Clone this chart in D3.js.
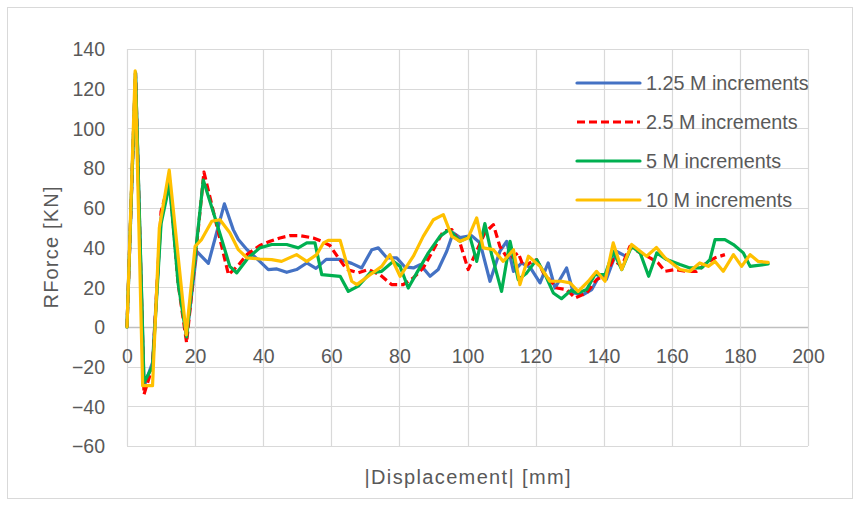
<!DOCTYPE html>
<html>
<head>
<meta charset="utf-8">
<script src="https://cdn.jsdelivr.net/npm/d3@7"></script>
<style>
  html, body { margin: 0; padding: 0; background: #fff; }
  svg { display: block; font-family: "Liberation Sans", Arial, sans-serif; }
</style>
</head>
<body>
<div id="chart"></div>
<script>
// series labels and colours
const seriesNames = ["1.25 M increments", "2.5 M increments", "5 M increments", "10 M increments"];
const seriesColors = ["#4472C4", "#FF0000", "#00B050", "#FFC000"];

// values: displacement [mm] and reaction force [kN]
const blueX = [0, 2.5, 5, 7.5, 10, 12.5, 15, 17.5, 20.5, 23.9, 28.6, 31.2, 32.7, 35.2, 39, 41.5, 44, 46.9, 49.8, 52.8, 55.5, 58.5, 62.6, 66, 68.9, 71.9, 73.8, 76.3, 79.2, 81.6, 84.1, 86.1, 89, 91.4, 93.9, 95.8, 97.8, 101.2, 103.7, 106.6, 109.5, 111.5, 113.5, 115.9, 118.4, 121.3, 123.7, 125.7, 129.1, 131.1, 134, 136.5, 138.9, 140.8, 143.8, 146];
const blueY = [0, 128, -30, -18, 55, 72, 25, -5, 38, 32, 62, 49, 44, 39, 33, 28.9, 29.2, 27.5, 28.9, 32.2, 29.5, 34, 34, 32, 29.7, 38.9, 39.8, 34.8, 34.8, 30.2, 29.7, 31.4, 25.5, 28.9, 38.1, 47.4, 45, 46, 42.3, 23, 38, 43.1, 28, 32.2, 30, 22.2, 32.2, 19.6, 29.7, 17.1, 16.3, 18.8, 26.3, 24, 38, 36];

const redX = [0, 2.5, 5, 7.5, 10, 12.5, 15, 17.5, 20.5, 22.6, 29.8, 32.7, 35.2, 39, 42, 44.9, 47.9, 50.8, 54.7, 57.2, 59.6, 62, 64.5, 67.9, 70.9, 74.3, 77.7, 81.1, 84.1, 87, 90, 92.9, 95.4, 97.8, 100.2, 102.2, 105.1, 107.6, 109.5, 112, 114.9, 116.4, 120.3, 122.3, 126.2, 129.1, 131.6, 135, 137.9, 140.5, 142.8, 145.3, 147.7, 150.7, 153.6, 156, 158, 160.9, 164.4, 167.3, 170.2, 172.7, 175.6];
const redY = [0, 128, -34, -20, 58, 74, 22, -8, 42, 78, 26.3, 31, 36.4, 41, 43.1, 44.8, 46, 46, 44.8, 43.1, 41, 35, 29, 27.2, 28.9, 26.3, 21.3, 21.3, 24.7, 29.7, 38.9, 48.2, 49, 42.3, 28.9, 36.4, 47.4, 51.5, 40.6, 33.9, 37.3, 30.5, 33.9, 27.2, 19.6, 18.8, 14.6, 17.1, 23.8, 26, 33.9, 30.5, 40.6, 37.3, 34.8, 32.2, 28, 28.9, 28, 28, 32.2, 34.8, 36.4];

const greenX = [0, 2.5, 5, 7.5, 10, 12.5, 15, 17.5, 22.4, 27.3, 30.2, 32.2, 35.6, 39, 42.5, 46.9, 50.3, 52.8, 55.2, 57.2, 62.6, 65, 67.9, 71.4, 74.8, 78.2, 80.2, 82.6, 85.1, 88.5, 91.9, 94.6, 97.8, 100.7, 102.7, 105.1, 107.1, 110, 112.5, 114.9, 117.4, 120.3, 122.8, 125.2, 127.6, 130.3, 132.5, 135, 137.4, 140.4, 142.8, 145.3, 148.2, 150.7, 153.2, 155.6, 158.5, 162.4, 165.3, 168.8, 171.2, 172.7, 175.6, 178.1, 181, 183, 188.3];
const greenY = [0, 128, -28, -20, 52, 72, 22, -5, 74, 47, 30.5, 27.2, 34.8, 39.8, 41.5, 41.5, 39.8, 42.3, 42.3, 26.3, 25.5, 17.9, 20.5, 27.2, 28, 33, 30.5, 19.6, 27.2, 37.3, 45.6, 49, 43.1, 45.6, 33, 52, 36.4, 17.9, 43.1, 23.8, 27.2, 33.9, 26.3, 17.1, 14.2, 18.3, 17.1, 18.8, 26.3, 26.3, 38, 28.9, 40.6, 37.3, 25.5, 37.3, 33.9, 31.4, 29.7, 29.7, 33.9, 44, 44, 41.5, 37.3, 30.5, 31.7];

const yellowX = [0, 2.4, 4.6, 7.5, 9.5, 12.4, 17.4, 20, 21.9, 24.9, 27.3, 30.2, 32.7, 35.2, 39, 42.5, 45.4, 49.8, 52.8, 55.7, 57.7, 59.1, 62.6, 66, 67.5, 71.4, 74.8, 77.2, 80.2, 84.1, 87, 90, 92.9, 95.4, 97.8, 100.2, 102.7, 104.6, 107.6, 110.5, 113.5, 115.4, 117.9, 121.3, 124.2, 127.6, 130.1, 132.5, 135.5, 137.9, 140.4, 142.8, 145.3, 148.2, 152.6, 155.5, 158, 162.4, 165.3, 168.2, 170.7, 172.7, 175.1, 178.1, 180.5, 183, 185.4, 188.3];
const yellowY = [0, 129, -29.6, -29.6, 50, 79, -4, 40.6, 44, 53.2, 54, 47.4, 38.9, 34.8, 34.2, 33.9, 33, 36.4, 33, 36.4, 42.3, 43.6, 43.6, 23, 21.3, 26.3, 30.5, 36.4, 25.5, 35.6, 45.6, 54, 56.6, 45.6, 43.1, 44.8, 54.9, 39.8, 38.9, 33, 38.9, 21.3, 35.6, 30.5, 23, 23, 22.2, 17.9, 23, 28, 23, 42.3, 28.9, 41.5, 35.6, 40, 34.8, 28.9, 28, 32.2, 30.5, 33, 28, 36.4, 30.5, 36.4, 33, 32.5];

const xTicks = [0, 20, 40, 60, 80, 100, 120, 140, 160, 180, 200];
const yTicks = [-60, -40, -20, 0, 20, 40, 60, 80, 100, 120, 140];

const W = 861, H = 506;
const margin = { top: 49, right: 53, bottom: 60, left: 127 };
const width = W - margin.left - margin.right,
    height = H - margin.top - margin.bottom;

const svg = d3.select("#chart")
    .append("svg")
    .attr("width", W)
    .attr("height", H);

// outer chart border
svg.append("rect")
    .attr("x", 7.5).attr("y", 7.5)
    .attr("width", 845).attr("height", 491)
    .attr("fill", "#fff")
    .attr("stroke", "#d9d9d9");

const g = svg.append("g")
    .attr("transform", `translate(${margin.left},${margin.top})`);

const x = d3.scaleLinear().domain([0, 200]).range([0, width]);
const y = d3.scaleLinear().domain([-60, 140]).range([height, 0]);

// gridlines
g.append("g")
    .selectAll("line")
    .data(yTicks)
    .enter()
    .append("line")
    .attr("x1", 0).attr("x2", width)
    .attr("y1", d => Math.round(y(d)) + 0.5)
    .attr("y2", d => Math.round(y(d)) + 0.5)
    .attr("stroke", d => d === 0 ? "#bfbfbf" : "#d9d9d9")
    .attr("stroke-width", d => d === 0 ? 1.5 : 1.2);

g.append("g")
    .selectAll("line")
    .data(xTicks)
    .enter()
    .append("line")
    .attr("y1", 0).attr("y2", height)
    .attr("x1", d => Math.round(x(d)) + 0.5)
    .attr("x2", d => Math.round(x(d)) + 0.5)
    .attr("stroke", "#d9d9d9")
    .attr("stroke-width", 1.2);

// y axis labels
const yAxis = g.append("g")
    .call(d3.axisLeft(y).tickValues(yTicks).tickSize(0).tickPadding(22));
yAxis.select(".domain").remove();
yAxis.selectAll("text")
    .attr("fill", "#595959")
    .style("font-size", "19.5px")
    .attr("dy", "0.35em");

// x axis labels sit under the zero line
const xAxis = g.append("g")
    .attr("transform", `translate(0,${y(0)})`)
    .call(d3.axisBottom(x).tickValues(xTicks).tickSize(0).tickPadding(22));
xAxis.select(".domain").remove();
xAxis.selectAll("text")
    .attr("fill", "#595959")
    .style("font-size", "19.5px");

// lines
const series = [
    { xs: blueX, ys: blueY },
    { xs: redX, ys: redY },
    { xs: greenX, ys: greenY },
    { xs: yellowX, ys: yellowY }
];

const line = d3.line()
    .x(d => x(d[0]))
    .y(d => y(d[1]));

series.forEach((s, i) => {
    const pts = s.xs.map((v, j) => [v, s.ys[j]]);
    g.append("path")
        .datum(pts)
        .attr("fill", "none")
        .attr("stroke", seriesColors[i])
        .attr("stroke-width", 3.2)
        .attr("stroke-linejoin", "round")
        .attr("stroke-linecap", i === 1 ? "butt" : "round")
        .attr("stroke-dasharray", i === 1 ? "8,4" : null)
        .attr("d", line);
});

// legend
const legend = svg.append("g");
const legendY = [83, 122, 161, 200];
seriesNames.forEach((name, i) => {
    legend.append("line")
        .attr("x1", 577).attr("x2", 640)
        .attr("y1", legendY[i]).attr("y2", legendY[i])
        .attr("stroke", seriesColors[i])
        .attr("stroke-width", 3.2)
        .attr("stroke-linecap", i === 1 ? "butt" : "round")
        .attr("stroke-dasharray", i === 1 ? "8,4" : null);
    legend.append("text")
        .attr("x", 646)
        .attr("y", legendY[i])
        .attr("dy", "0.35em")
        .attr("fill", "#595959")
        .style("font-size", "19.8px")
        .text(name);
});

// axis titles
svg.append("text")
    .attr("x", margin.left + width / 2)
    .attr("y", 484)
    .attr("text-anchor", "middle")
    .attr("fill", "#595959")
    .style("font-size", "20px")
    .attr("textLength", 206)
    .attr("lengthAdjust", "spacing")
    .text("|Displacement| [mm]");

svg.append("text")
    .attr("transform", `translate(58,${margin.top + height / 2}) rotate(-90)`)
    .attr("text-anchor", "middle")
    .attr("fill", "#595959")
    .style("font-size", "20px")
    .attr("textLength", 122)
    .attr("lengthAdjust", "spacing")
    .text("RForce [KN]");
</script>
</body>
</html>
